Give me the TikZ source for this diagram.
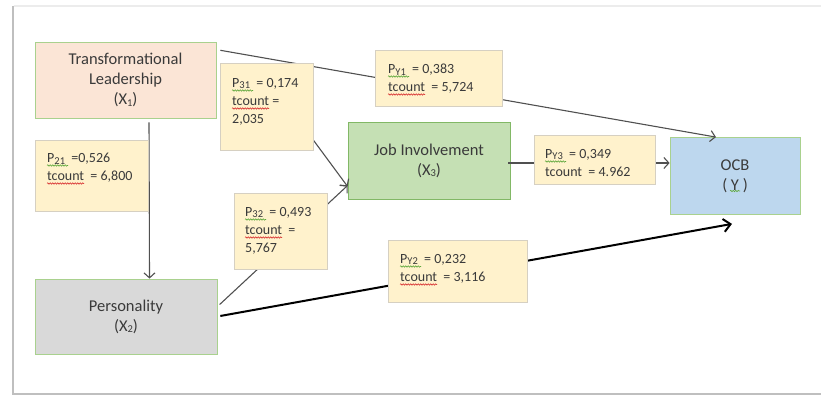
\documentclass[tikz,border=0pt]{standalone}
\usepackage{fontspec}
\setmainfont{Carlito}
\usetikzlibrary{arrows.meta,decorations.pathmorphing}
\definecolor{txt}{HTML}{3A3A3A}
\definecolor{boxgreen}{HTML}{A9D18E}
\definecolor{peach}{HTML}{FBE5D6}
\definecolor{persgray}{HTML}{D9D9D9}
\definecolor{jobgreen}{HTML}{C5E0B4}
\definecolor{jobline}{HTML}{82B866}
\definecolor{ocbblue}{HTML}{BDD7EE}
\definecolor{lblfill}{HTML}{FFF2CC}
\definecolor{lblline}{HTML}{D6D0C2}
\definecolor{arrgray}{HTML}{505050}
\definecolor{sqgreen}{HTML}{5FA83C}
\definecolor{sqred}{HTML}{D83030}
% small figures
\newcommand\sub[1]{\raisebox{-1.5pt}{\fontsize{10.5}{10}\selectfont #1}}
\tikzset{
  var/.style={draw=boxgreen, line width=0.8pt, text=txt, align=center, inner sep=0pt,
              font=\fontsize{16.5}{20}\selectfont},
  lblbox/.style={draw=lblline, fill=lblfill, line width=0.8pt, inner sep=0pt},
  lbltxt/.style={text=txt, align=left, inner sep=0pt, anchor=north west,
                 font=\fontsize{14}{18}\selectfont},
  arr/.style={draw=arrgray, line width=1.1pt, -{Straight Barb[length=5pt,width=11pt]}},
  sq/.style={line width=0.6pt, decorate, decoration={snake, amplitude=0.7pt, segment length=2.5pt}},
}

\begin{document}
\begin{tikzpicture}[x=1pt,y=-1pt]
	\useasboundingbox (0,0) rectangle (821,398);
	% frame
	\draw[line width=1.5pt, gray!15] (13.5,6) -- (830,6);
	\draw[line width=2pt, gray!50] (13,6) |- (830,394);
	% variables
	\node[var, fill=peach, minimum width=181pt, minimum height=76pt] (x1) at (125.5,80) {Transformational\\Leadership\\(X\sub{1})};
	\node[var, fill=persgray, minimum width=182pt, minimum height=75pt] (x2) at (126,316.5) {Personality\\(X\sub{2})};
	\node[var, fill=jobgreen, draw=jobline, minimum width=162pt, minimum height=77pt] (x3) at (429,160.5) {Job Involvement\\(X\sub{3})};
	\node[var, fill=ocbblue, minimum width=130pt, minimum height=77pt] (y) at (735,176) {OCB\\( Y )};
	\draw[sq, sqgreen] ([shift={(-5pt,-15pt)}]y.center) -- ++(10,0);
	% paths
	\coordinate (c31) at (300,122);
	\coordinate (c3) at (508,163);
	\draw[arr, shorten <=4pt] ([xshift=23.5pt]x1.south) -- ([xshift=23.5pt]x2.north);
	\draw[arr, shorten <=4pt] ([yshift=-8pt]x1.north east) -- ([xshift=-19pt]y.north);
	\draw[arr] (c31) -- ([yshift=-26pt]x3.west);
	\draw[arr, shorten <=3pt] ([yshift=-28pt]x2.north east) -- ([yshift=-25pt]x3.west);
	\draw[arr] (c3) -- (c3 -| y.west);
	\draw[draw=black, line width=2pt, -{Straight Barb[length=7pt,width=13pt]}, shorten <=3pt] (x2.east) -- ([shift={(-3pt,-9pt)}]y.south);
	% coefficients
	\node[lblbox, minimum width=113pt, minimum height=71pt] (p21) at (91.5,175.5) {};
	\node[lblbox, minimum width=93pt, minimum height=87pt] (p31) at (266.5,106.5) {};
	\node[lblbox, minimum width=127pt, minimum height=56pt] (py1) at (438.5,78) {};
	\node[lblbox, minimum width=121pt, minimum height=49pt] (py3) at (594.5,159.5) {};
	\node[lblbox, minimum width=93pt, minimum height=76pt] (p32) at (280.5,231) {};
	\node[lblbox, minimum width=139pt, minimum height=62pt] (py2) at (457.5,271) {};
	\node[lbltxt] (t21) at (47,153) {P\sub{21}~ =0,526\\tcount ~= 6,800};
	\node[lbltxt] (t31) at (232,78) {P\sub{31}~ = 0,174\\tcount =\\2,035};
	\node[lbltxt] (ty1) at (388,64) {P\sub{Y1}~ = 0,383\\tcount ~= 5,724};
	\node[lbltxt] (ty3) at (545,149) {P\sub{Y3}~ = 0,349\\tcount ~= 4.962};
	\node[lbltxt] (t32) at (245,207) {P\sub{32}~ = 0,493\\tcount ~=\\5,767};
	\node[lbltxt] (ty2) at (400,254) {P\sub{Y2}~ = 0,232\\tcount ~= 3,116};
	% spell-check marks
	\foreach \t in {t21,t31,ty1,ty3,t32,ty2}
		\draw[sq, sqgreen] ([yshift=-12.5pt]\t.north west) -- ++(21,0);
	\foreach \t in {t21,t31,ty1,t32,ty2}
		\draw[sq, sqred] ([yshift=-30.5pt]\t.north west) -- ++(37,0);
\end{tikzpicture}
\end{document}
